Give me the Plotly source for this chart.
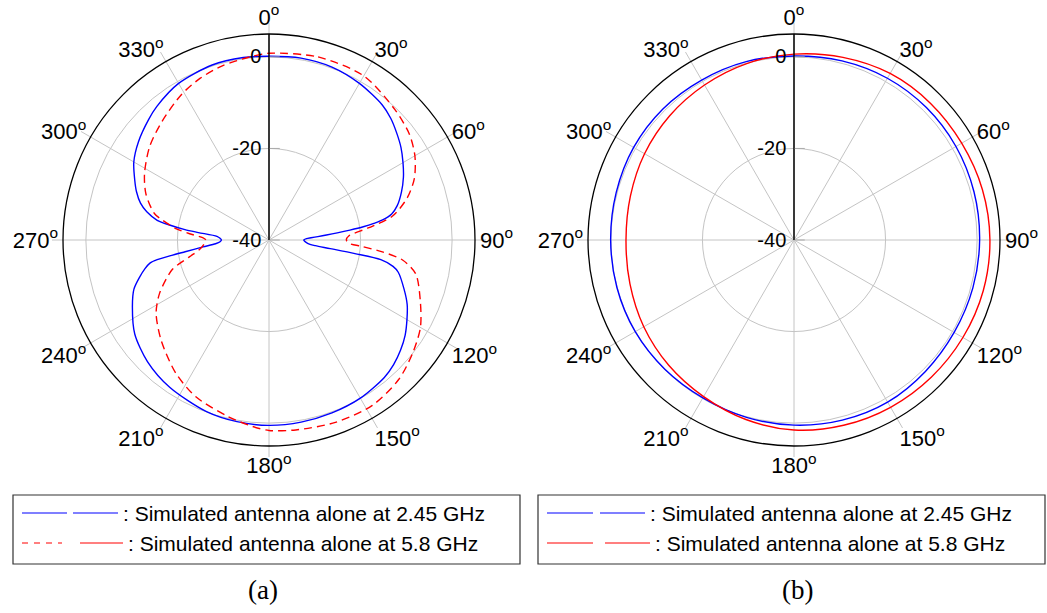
import plotly.graph_objects as go

# ---------------- data ----------------
# (a) 2.45 GHz, blue solid
theta_a_245 = [0, 10, 20, 30, 40, 45, 50, 55, 60, 65, 70, 75, 78, 80, 81, 82, 83, 84, 85, 86, 87, 88, 90,
               92, 94, 96, 97, 98, 99, 100, 102, 104, 110, 115, 120, 125, 130, 135, 140, 150, 160, 170, 180,
               190, 200, 214, 225, 235, 244, 250, 254, 257, 259, 260, 261, 262, 264, 266, 268, 270, 272,
               274, 276, 277, 278.5, 280, 283, 286, 290, 294, 300, 307, 315, 320, 330, 342, 352, 360]
r_a_245 = [0.15, 0.35, 0.2, -0.5, -1.5, -2.4, -3.6, -4.8, -6.2, -7.6, -9.2, -11.0, -12.6, -14.8, -16.8, -19.2,
           -22.2, -25.0, -27.4, -29.3, -30.8, -31.8, -32.4, -32.2, -31.8, -31.0, -29.8, -26.5, -21.0, -15.2,
           -12.3, -10.9, -8.6, -6.7, -5.2, -3.7, -2.5, -1.5, -0.8, -0.1, 0.2, 0.4, 0.5,
           0.3, -0.1, -1.2, -2.45, -4.2, -6.8, -8.6, -10.6, -12.2, -13.5, -15.2, -18.5, -21.5, -25.5, -28.3,
           -29.3, -29.6, -29.3, -28.6, -24.5, -21.5, -18.2, -15.2, -12.6, -10.8, -9.2, -7.9, -5.9, -4.3,
           -2.8, -1.9, -0.5, 0.2, 0.25, 0.15]

# (a) 5.8 GHz, red dashed
theta_a_58 = [0, 15, 30, 44, 53, 60, 67, 73, 79, 83, 87, 90, 92.5, 94, 96, 98.5, 103, 112, 120, 128, 137, 148,
              160, 172, 180, 185, 193, 205, 215, 227, 237, 244, 253, 258, 262, 266, 270, 272, 274.5, 277,
              280.5, 283, 290.5, 298, 308, 318, 329, 337, 345, 354, 360]
r_a_58 = [0.8, 1.4, 1.4, -0.4, -1.6, -3.2, -5.5, -8.4, -12.5, -18.0, -22.5, -23.1, -22.4, -19.5, -15.1, -10.5,
          -7.1, -4.35, -1.8, -0.1, 1.6, 2.6, 2.4, 1.9, 1.6, 0.9, -0.4, -2.2, -4.5, -7.8, -10.6, -13.4, -17.9,
          -22.2, -24.6, -25.7, -26.2, -25.5, -22.6, -19.5, -16.4, -14.3, -11.3, -9.2, -6.9, -5.1, -2.9, -1.6,
          -0.6, 0.2, 0.8]

# (b) 2.45 GHz, blue solid
theta_b_245 = [0, 15, 30, 45, 60, 75, 90, 105, 120, 135, 150, 165, 180, 195, 210, 225, 240, 255, 270, 285,
               300, 315, 330, 345, 360]
r_b_245 = [0.2, 0.5, 0.8, 0.9, 0.85, 0.7, 0.55, 0.45, 0.4, 0.6, 0.9, 0.75, 0.45, 0.1, -0.2, -0.1, 0.05, 0.05,
           0.05, 0.2, 0.45, 0.5, 0.35, 0.35, 0.2]

# (b) 5.8 GHz, red solid
theta_b_58 = [0, 15, 30, 45, 60, 75, 90, 105, 120, 135, 150, 165, 180, 195, 210, 225, 240, 255, 270,
              285, 300, 315, 330, 345, 360]
r_b_58 = [0.6, 1.3, 2.0, 2.2, 2.3, 2.6, 2.8, 2.8, 2.6, 2.4, 2.2, 1.9, 1.5, 0.6, -0.5, -1.3, -2.1, -2.9,
          -3.3, -3.0, -2.3, -1.6, -0.9, -0.1, 0.6]

angle_ticks = list(range(0, 360, 30))
angle_labels = [f"{a}<sup>o</sup>" for a in angle_ticks]
radial_ticks = [-40, -20, 0]
radial_labels = ["-40", "-20", "0"]
r_range = [-40, 5]

series_label_245 = ": Simulated antenna alone at 2.45 GHz"
series_label_58 = ": Simulated antenna alone at 5.8 GHz"
captions = ["(a)", "(b)"]

BLUE = "#0000FF"
RED = "#FF0000"
GRID = "#c4c4c4"
SANS = "Liberation Sans, Arial, Helvetica, sans-serif"
SERIF = "Liberation Serif, Times New Roman, serif"

W, H = 1047, 613


def px(x):
    return x / W


def py(y):
    return 1 - y / H


fig = go.Figure()

# spoke extensions beyond the outer circle (drawn first, underneath)
EXT = 11
for sp in ("polar", "polar2"):
    fig.add_trace(go.Scatterpolar(theta=[], r=[], mode="lines", subplot=sp, showlegend=False, hoverinfo="skip"))

fig.add_trace(go.Scatterpolar(theta=theta_a_245, r=r_a_245, mode="lines", subplot="polar3",
                              line=dict(color=BLUE, width=1.4, shape="spline", smoothing=0.8),
                              showlegend=False))
fig.add_trace(go.Scatterpolar(theta=theta_a_58, r=r_a_58, mode="lines", subplot="polar3",
                              line=dict(color=RED, width=1.4, dash="8px,5px", shape="spline", smoothing=0.8),
                              showlegend=False))
fig.add_trace(go.Scatterpolar(theta=theta_b_245, r=r_b_245, mode="lines", subplot="polar4",
                              line=dict(color=BLUE, width=1.4, shape="spline", smoothing=1.0),
                              showlegend=False))
fig.add_trace(go.Scatterpolar(theta=theta_b_58, r=r_b_58, mode="lines", subplot="polar4",
                              line=dict(color=RED, width=1.4, shape="spline", smoothing=1.0),
                              showlegend=False))


def spoke_layout(x0, x1):
    return dict(
        domain=dict(x=[px(x0 - EXT), px(x1 + EXT)], y=[py(446 + EXT), py(34 - EXT)]),
        bgcolor="rgba(0,0,0,0)",
        angularaxis=dict(rotation=90, direction="clockwise", tickmode="array", tickvals=angle_ticks,
                         showticklabels=False, ticks="", showline=False,
                         showgrid=True, gridcolor=GRID, gridwidth=1),
        radialaxis=dict(range=r_range, visible=False, showgrid=False),
    )


def polar_layout(x0, x1):
    return dict(
        domain=dict(x=[px(x0), px(x1)], y=[py(446), py(34)]),
        bgcolor="white",
        angularaxis=dict(
            rotation=90, direction="clockwise",
            tickmode="array", tickvals=angle_ticks, ticktext=angle_labels,
            tickfont=dict(family=SANS, size=22, color="black"),
            showline=True, linecolor="black", linewidth=1.3,
            showgrid=True, gridcolor=GRID, gridwidth=1,
            ticks="",
        ),
        radialaxis=dict(
            range=r_range, angle=90, side="counterclockwise",
            tickmode="array", tickvals=radial_ticks, ticktext=radial_labels,
            tickfont=dict(family=SANS, size=20, color="black"),
            showline=True, linecolor="black", linewidth=1.5,
            showgrid=True, gridcolor=GRID, gridwidth=1,
            ticks="inside", ticklen=10, tickcolor="#aaaaaa",
            tickangle=90,
        ),
    )


shapes = []
annotations = []

legend_specs = [
    dict(box=(13, 520), r1=((22, 67), (73, 118), 121), r2=((22, 62), (80, 123), 126), dash2="6px,6px",
         cap=263, cap_text=captions[0]),
    dict(box=(538, 1045), r1=((547, 593), (600, 645), 648), r2=((547, 593), (605, 650), 653), dash2="solid",
         cap=797, cap_text=captions[1]),
]
for spec in legend_specs:
    x0, x1 = spec["box"]
    shapes.append(dict(type="rect", xref="paper", yref="paper", x0=px(x0), x1=px(x1), y0=py(564), y1=py(495),
                       line=dict(color="#333333", width=1.2), fillcolor="rgba(0,0,0,0)"))
    (a0, a1), (b0, b1), tx = spec["r1"]
    for s0, s1 in ((a0, a1), (b0, b1)):
        shapes.append(dict(type="line", xref="paper", yref="paper", x0=px(s0), x1=px(s1), y0=py(513), y1=py(513),
                           line=dict(color=BLUE, width=1.2)))
    annotations.append(dict(text=series_label_245, xref="paper", yref="paper", x=px(tx), y=py(513),
                            xanchor="left", yanchor="middle", showarrow=False,
                            font=dict(family=SANS, size=21, color="black")))
    (a0, a1), (b0, b1), tx = spec["r2"]
    shapes.append(dict(type="line", xref="paper", yref="paper", x0=px(a0), x1=px(a1), y0=py(543), y1=py(543),
                       line=dict(color=RED, width=1.2, dash=spec["dash2"])))
    shapes.append(dict(type="line", xref="paper", yref="paper", x0=px(b0), x1=px(b1), y0=py(543), y1=py(543),
                       line=dict(color=RED, width=1.2)))
    annotations.append(dict(text=series_label_58, xref="paper", yref="paper", x=px(tx), y=py(543),
                            xanchor="left", yanchor="middle", showarrow=False,
                            font=dict(family=SANS, size=21, color="black")))
    annotations.append(dict(text=spec["cap_text"], xref="paper", yref="paper", x=px(spec["cap"]), y=py(590),
                            xanchor="center", yanchor="middle", showarrow=False,
                            font=dict(family=SERIF, size=27, color="black")))

fig.update_layout(
    width=W, height=H,
    margin=dict(l=0, r=0, t=0, b=0),
    paper_bgcolor="white",
    showlegend=False,
    polar=spoke_layout(63, 475),
    polar2=spoke_layout(588, 1000),
    polar3=polar_layout(63, 475),
    polar4=polar_layout(588, 1000),
    shapes=shapes,
    annotations=annotations,
)

# remove the default page margin so the figure sits at the window's top-left corner
fig.write_html("out.html", config={"displayModeBar": False},
               post_script="document.body.style.margin='0px';")
